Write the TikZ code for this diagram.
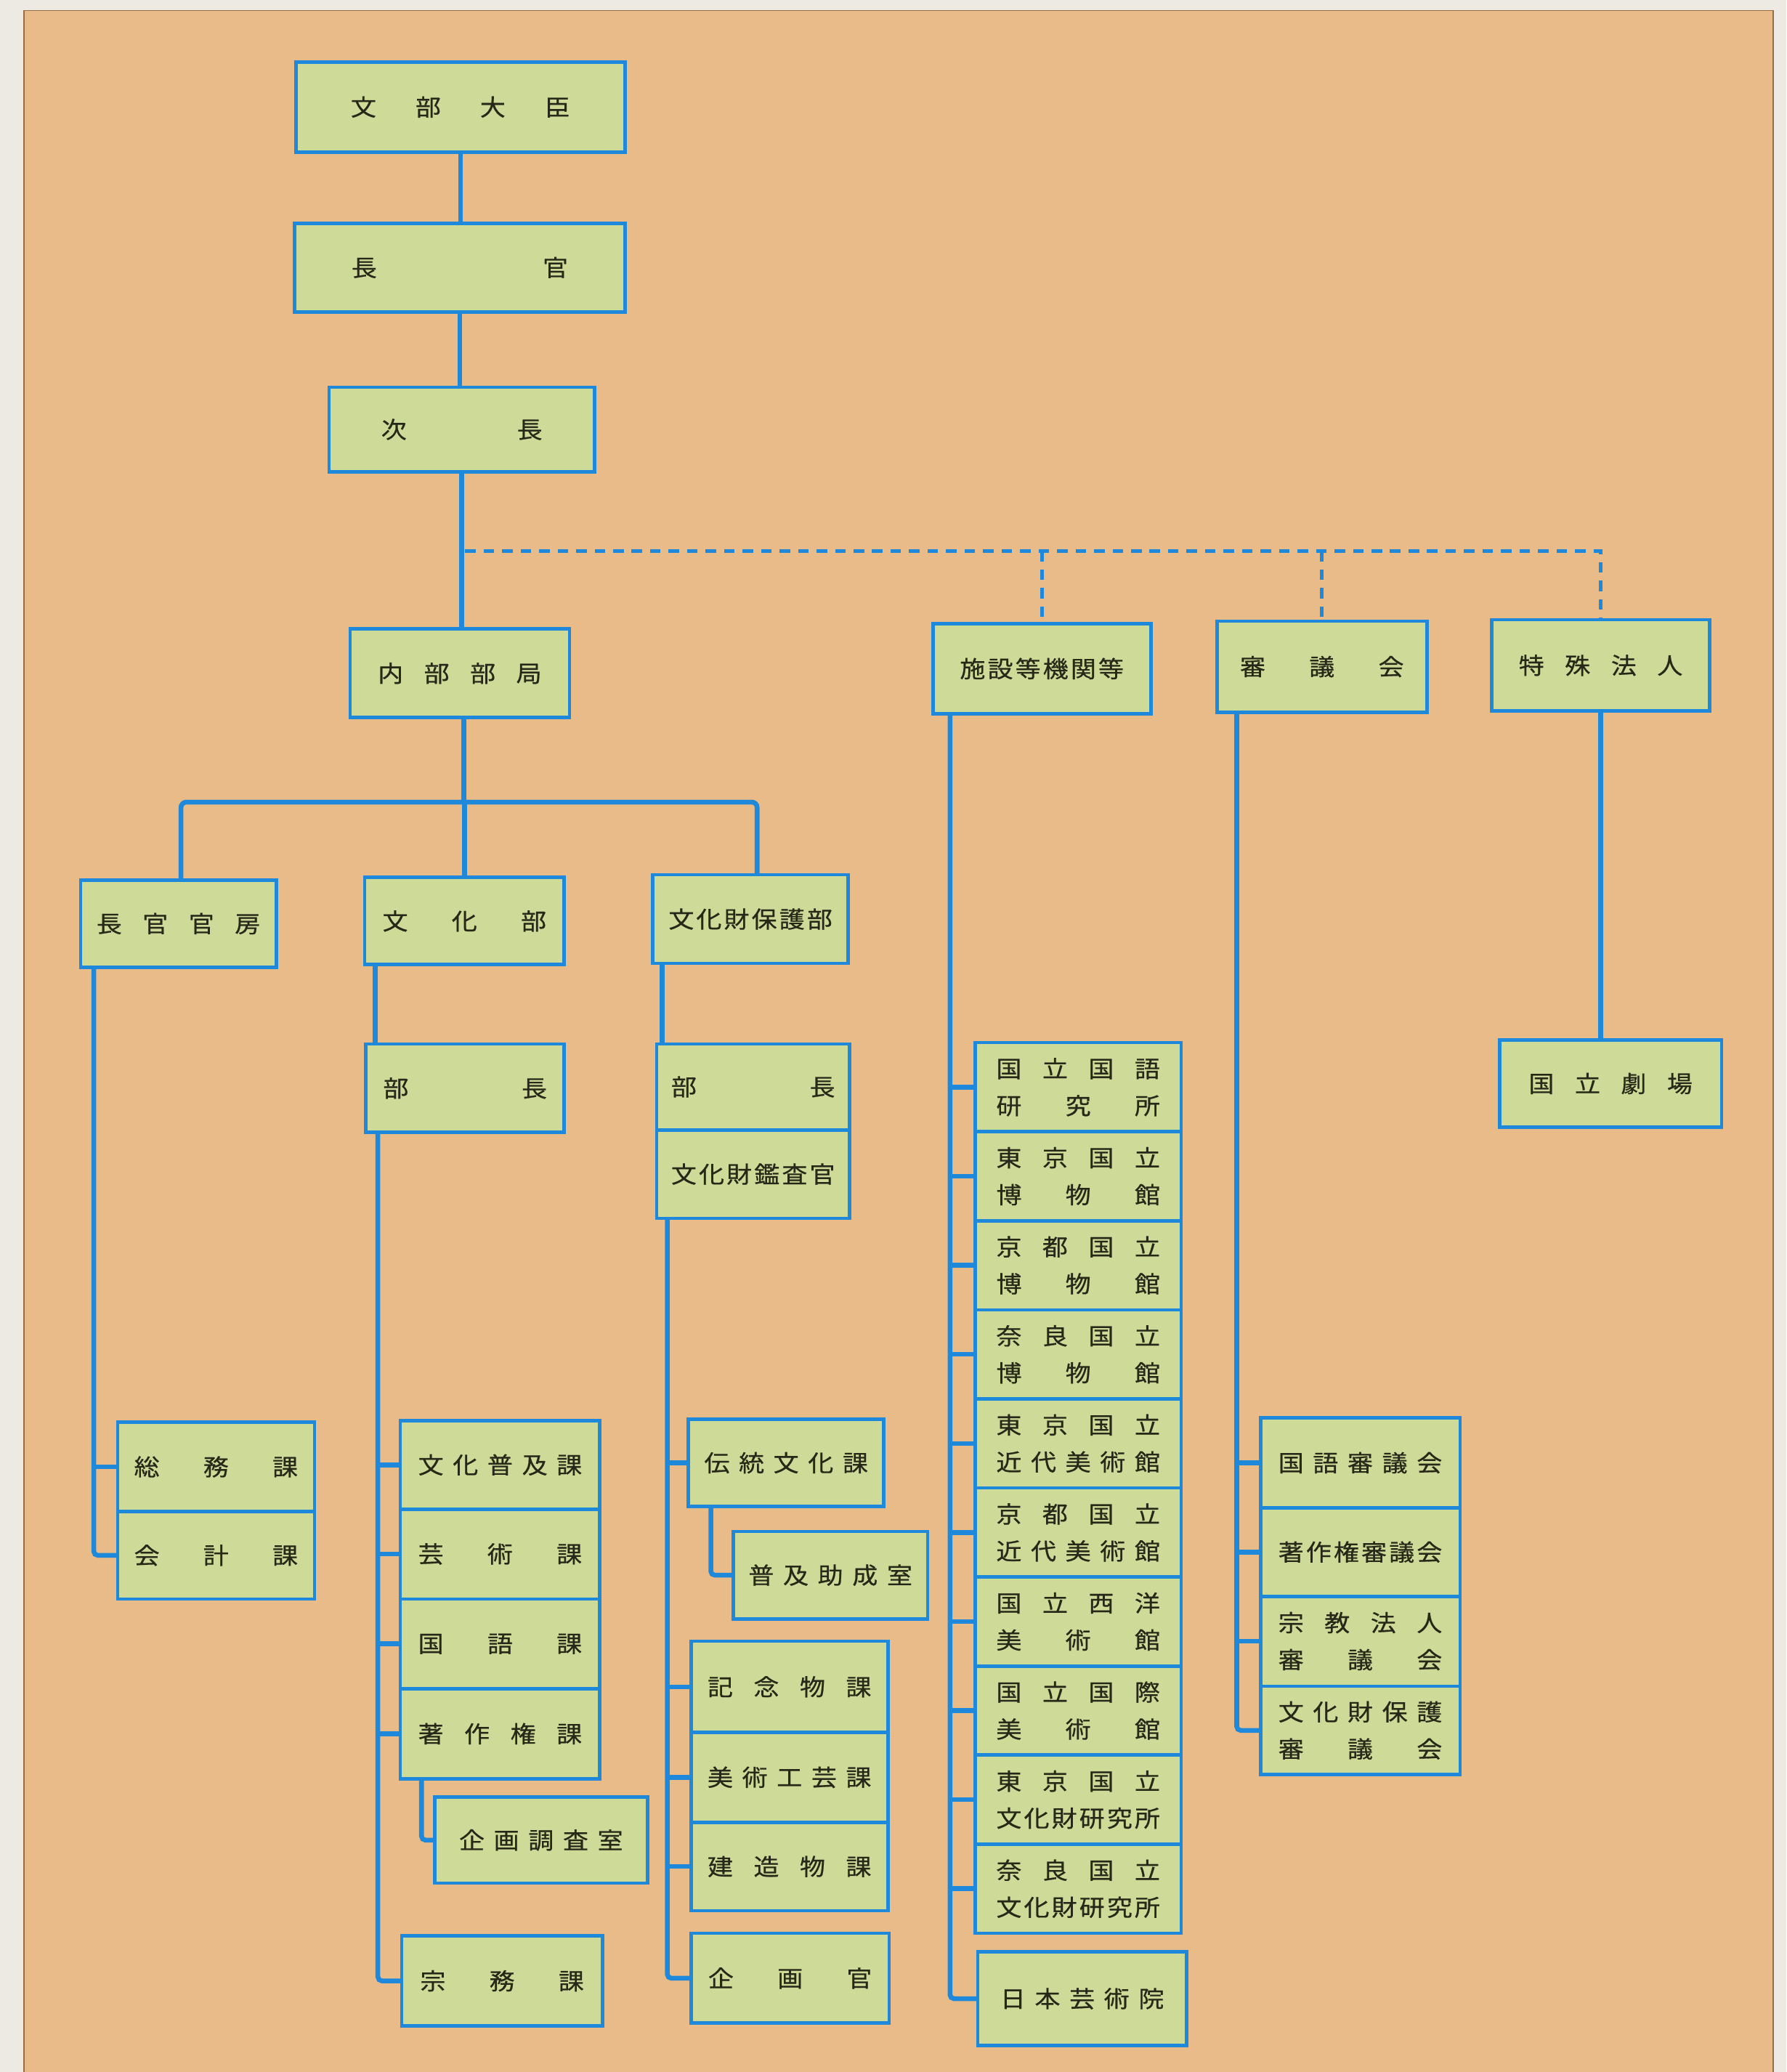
\documentclass[tikz,border=0pt]{standalone}
\usepackage{fontspec}
\newfontfamily\jp{Noto Sans CJK JP}[FakeStretch=1.1,FakeBold=0.6]
\usetikzlibrary{calc}
\definecolor{bgout}{RGB}{236,234,226}
\definecolor{paper}{RGB}{232,187,136}
\definecolor{boxfill}{RGB}{205,218,152}
\definecolor{lineblue}{RGB}{30,137,218}
\definecolor{ink}{RGB}{40,40,25}
\definecolor{edge}{RGB}{150,110,70}
\newcommand\hf{\hfill}
\newcommand\lbl[2][124]{\makebox[#1pt]{#2}}
\newcommand\bx[6]{\node[bx,minimum width={(#4-#2)*1pt},minimum height={(#5-#3)*1pt}] (#1) at ({(#2+#4)/2},{(#3+#5)/2}) {#6};}
\begin{document}
\begin{tikzpicture}[x=1pt,y=-1pt,
  bx/.style={draw=lineblue, line width=2.6pt, fill=boxfill, inner sep=0pt, outer sep=0pt, align=center, text=ink, font=\jp\fontsize{17.5}{28}\selectfont},
  ln/.style={draw=lineblue, line width=3.6pt},
  dsh/.style={draw=lineblue, line width=2.6pt, dash pattern=on 8pt off 6pt}]
\useasboundingbox (0,0) rectangle (1352,1568);
\fill[bgout] (0,0) rectangle (1352,1568);
\fill[paper] (18,8) rectangle (1342,1568);
\draw[edge, line width=1pt] (18,1568) -- (18,8) -- (1342,8) -- (1342,1568);

% top column
\bx{mon}{224}{47}{473}{115}{\lbl[166]{文\hf 部\hf 大\hf 臣}}
\bx{chokan}{223}{169}{473}{236}{\lbl[164]{長\hf 官}}
\bx{jicho}{249}{293}{450}{357}{\lbl[122]{次\hf 長}}
\bx{naibu}{265}{476}{431}{543}{\lbl{内\hf 部\hf 部\hf 局}}
\bx{shisetsu}{706}{472}{871}{540}{\lbl{施\hf 設\hf 等\hf 機\hf 関\hf 等}}
\bx{shingi}{921}{470}{1080}{539}{\lbl{審\hf 議\hf 会}}
\bx{tokushu}{1129}{469}{1294}{538}{\lbl{特\hf 殊\hf 法\hf 人}}
\bx{gekijo}{1135}{787}{1303}{853}{\lbl{国\hf 立\hf 劇\hf 場}}

% second level
\bx{kanbo}{61}{666}{209}{732}{\lbl{長\hf 官\hf 官\hf 房}}
\bx{bunka}{276}{664}{427}{730}{\lbl{文\hf 化\hf 部}}
\bx{hogo}{494}{662}{642}{729}{\lbl{文\hf 化\hf 財\hf 保\hf 護\hf 部}}
\bx{bucho1}{277}{790}{427}{857}{\lbl{部\hf 長}}
\bx{bucho2}{497}{790}{643}{855}{\lbl{部\hf 長}}
\bx{kansa}{497}{855}{643}{922}{\lbl{文\hf 化\hf 財\hf 鑑\hf 査\hf 官}}

% kanbo column
\bx{somu}{89}{1076}{238}{1144}{\lbl{総\hf 務\hf 課}}
\bx{kaikei}{89}{1144}{238}{1210}{\lbl{会\hf 計\hf 課}}

% bunka column
\bx{fukyu}{303}{1075}{454}{1142}{\lbl{文\hf 化\hf 普\hf 及\hf 課}}
\bx{geijutsu}{303}{1142}{454}{1210}{\lbl{芸\hf 術\hf 課}}
\bx{kokugo}{303}{1210}{454}{1278}{\lbl{国\hf 語\hf 課}}
\bx{chosaku}{303}{1278}{454}{1346}{\lbl{著\hf 作\hf 権\hf 課}}
\bx{kikaku}{329}{1360}{490}{1425}{\lbl{企\hf 画\hf 調\hf 査\hf 室}}
\bx{shumu}{304}{1465}{456}{1533}{\lbl{宗\hf 務\hf 課}}

% hogo column
\bx{dento}{521}{1074}{669}{1140}{\lbl{伝\hf 統\hf 文\hf 化\hf 課}}
\bx{josei}{555}{1159}{702}{1225}{\lbl{普\hf 及\hf 助\hf 成\hf 室}}
\bx{kinen}{523}{1242}{672}{1311}{\lbl{記\hf 念\hf 物\hf 課}}
\bx{bijutsu}{523}{1311}{672}{1379}{\lbl{美\hf 術\hf 工\hf 芸\hf 課}}
\bx{kenzo}{523}{1379}{672}{1446}{\lbl{建\hf 造\hf 物\hf 課}}
\bx{kikakukan}{523}{1463}{673}{1531}{\lbl{企\hf 画\hf 官}}

% facilities column
\bx{f0}{738}{789}{894}{856.4}{\lbl{国\hf 立\hf 国\hf 語}\\\lbl{研\hf 究\hf 所}}
\bx{f1}{738}{856.4}{894}{923.8}{\lbl{東\hf 京\hf 国\hf 立}\\\lbl{博\hf 物\hf 館}}
\bx{f2}{738}{923.8}{894}{991.2}{\lbl{京\hf 都\hf 国\hf 立}\\\lbl{博\hf 物\hf 館}}
\bx{f3}{738}{991.2}{894}{1058.6}{\lbl{奈\hf 良\hf 国\hf 立}\\\lbl{博\hf 物\hf 館}}
\bx{f4}{738}{1058.6}{894}{1126}{\lbl{東\hf 京\hf 国\hf 立}\\\lbl{近\hf 代\hf 美\hf 術\hf 館}}
\bx{f5}{738}{1126}{894}{1193.4}{\lbl{京\hf 都\hf 国\hf 立}\\\lbl{近\hf 代\hf 美\hf 術\hf 館}}
\bx{f6}{738}{1193.4}{894}{1260.8}{\lbl{国\hf 立\hf 西\hf 洋}\\\lbl{美\hf 術\hf 館}}
\bx{f7}{738}{1260.8}{894}{1328.2}{\lbl{国\hf 立\hf 国\hf 際}\\\lbl{美\hf 術\hf 館}}
\bx{f8}{738}{1328.2}{894}{1395.6}{\lbl{東\hf 京\hf 国\hf 立}\\\lbl{文\hf 化\hf 財\hf 研\hf 究\hf 所}}
\bx{f9}{738}{1395.6}{894}{1463}{\lbl{奈\hf 良\hf 国\hf 立}\\\lbl{文\hf 化\hf 財\hf 研\hf 究\hf 所}}
\bx{geijutsuin}{740}{1477}{898}{1548}{\lbl{日\hf 本\hf 芸\hf 術\hf 院}}

% councils column
\bx{k0}{954}{1073}{1105}{1141}{\lbl{国\hf 語\hf 審\hf 議\hf 会}}
\bx{k1}{954}{1141}{1105}{1208}{\lbl{著\hf 作\hf 権\hf 審\hf 議\hf 会}}
\bx{k2}{954}{1208}{1105}{1276}{\lbl{宗\hf 教\hf 法\hf 人}\\\lbl{審\hf 議\hf 会}}
\bx{k3}{954}{1276}{1105}{1343}{\lbl{文\hf 化\hf 財\hf 保\hf 護}\\\lbl{審\hf 議\hf 会}}

% trunk
\draw[ln] (mon.south) -- (mon.south |- chokan.north);
\draw[ln] (chokan.south) -- (chokan.south |- jicho.north);
\draw[ln] (jicho.south) -- (jicho.south |- naibu.north);
\coordinate (bar) at (352,607);
\coordinate (n0) at ([xshift=3pt]naibu.south);
\draw[ln] (n0) -- (n0 |- bar);
\draw[ln, rounded corners=4pt] ([xshift=2pt]kanbo.north) |- (bar) -| ([xshift=5pt]hogo.north);
\draw[ln] (bunka.north) -- (bunka.north |- bar);

% dashed links
\coordinate (dj) at (352,417);
\draw[dsh] (dj) -| (tokushu.north);
\draw[dsh] (dj -| shisetsu.north) -- (shisetsu.north);
\draw[dsh] (dj -| shingi.north) -- (shingi.north);
\draw[ln] (tokushu.south) -- (tokushu.south |- gekijo.north);

% kanbo
\coordinate (ka) at ([xshift=10pt]kanbo.south west);
\draw[ln, rounded corners=3pt] (ka) |- (kaikei.west);
\draw[ln] (ka |- somu.west) -- (somu.west);

% bunka
\coordinate (bu) at ([xshift=8pt]bunka.south west);
\draw[ln] (bu) -- (bu |- bucho1.north);
\coordinate (bb) at ([xshift=9pt]bucho1.south west);
\draw[ln, rounded corners=3pt] (bb) |- (shumu.west);
\foreach \n in {fukyu,geijutsu,kokugo,chosaku} \draw[ln] (bb |- \n.west) -- (\n.west);
\coordinate (cs) at ([xshift=16pt]chosaku.south west);
\draw[ln, rounded corners=3pt] (cs) |- (kikaku.west);

% hogo
\coordinate (hg) at ([xshift=7pt]hogo.south west);
\draw[ln] (hg) -- (hg |- bucho2.north);
\coordinate (hk) at ([xshift=8pt]kansa.south west);
\draw[ln, rounded corners=3pt] (hk) |- (kikakukan.west);
\foreach \n in {dento,kinen,bijutsu,kenzo} \draw[ln] (hk |- \n.west) -- (\n.west);
\coordinate (dt) at ([xshift=17pt]dento.south west);
\draw[ln, rounded corners=3pt] (dt) |- (josei.west);

% facilities
\coordinate (sf) at ([xshift=13pt]shisetsu.south west);
\draw[ln, rounded corners=3pt] (sf) |- (geijutsuin.west);
\foreach \n in {f0,f1,f2,f3,f4,f5,f6,f7,f8,f9} \draw[ln] (sf |- \n.west) -- (\n.west);

% councils
\coordinate (sg) at ([xshift=15pt]shingi.south west);
\draw[ln, rounded corners=3pt] (sg) |- (k3.west);
\foreach \n in {k0,k1,k2} \draw[ln] (sg |- \n.west) -- (\n.west);
\end{tikzpicture}
\end{document}
